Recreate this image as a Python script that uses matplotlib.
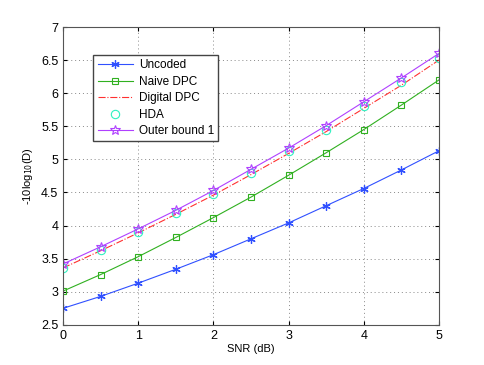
import numpy as np
import matplotlib
matplotlib.use('Agg')
import matplotlib.pyplot as plt

plt.rcParams['font.family'] = ['Liberation Sans', 'DejaVu Sans']

snr = [0, 0.5, 1, 1.5, 2, 2.5, 3, 3.5, 4, 4.5, 5]
uncoded = [2.75, 2.93, 3.13, 3.34, 3.56, 3.80, 4.04, 4.30, 4.56, 4.84, 5.13]
naive = [3.01, 3.26, 3.53, 3.82, 4.12, 4.43, 4.76, 5.10, 5.45, 5.82, 6.20]
digital = [3.36, 3.62, 3.89, 4.17, 4.46, 4.77, 5.09, 5.42, 5.77, 6.12, 6.50]
hda = [3.36, 3.63, 3.91, 4.19, 4.48, 4.80, 5.12, 5.45, 5.81, 6.17, 6.53]
outer = [3.42, 3.68, 3.95, 4.23, 4.53, 4.85, 5.17, 5.51, 5.87, 6.23, 6.60]

fig = plt.figure(figsize=(4.85, 3.65), dpi=100)
ax = fig.add_axes([0.13, 0.11, 0.775, 0.816])

ax.plot(snr, uncoded, color='#3050ff', marker=(6, 2, 0), markersize=6, mew=0.9, lw=0.8, label='Uncoded')
ax.plot(snr, naive, color='#30b020', marker='s', markersize=5, mfc='none', mew=0.8, lw=0.8, label='Naive DPC')
ax.plot(snr, digital, color='#ff3030', ls='-.', lw=0.8, label='Digital DPC')
ax.plot(snr, hda, color='#30f0c0', marker='o', markersize=6, mfc='none', mew=0.8, ls='none', label='HDA')
ax.plot(snr, outer, color='#b040ff', marker='*', markersize=7, mfc='none', mew=0.8, lw=0.8, label='Outer bound 1')

ax.set_xlim(0, 5)
ax.set_ylim(2.5, 7)
ax.set_xticks([0, 1, 2, 3, 4, 5])
ax.set_yticks([2.5, 3, 3.5, 4, 4.5, 5, 5.5, 6, 6.5, 7])
ax.set_yticklabels(['2.5', '3', '3.5', '4', '4.5', '5', '5.5', '6', '6.5', '7'])
ax.grid(True, ls=(0, (1, 3)), color='#888888', lw=0.7)
ax.tick_params(direction='in', labelsize=9, top=True, right=True, length=3)
for s in ax.spines.values():
    s.set_color('#555555')
ax.set_xlabel('SNR (dB)', fontsize=8, labelpad=2)
ax.set_ylabel('-10log$_{10}$(D)', fontsize=8)

leg = ax.legend(loc='upper left', bbox_to_anchor=(0.065, 0.925), fontsize=8.5,
                fancybox=False, framealpha=1, edgecolor='#444444',
                handlelength=3, handletextpad=0.5, borderpad=0.35, labelspacing=0.38)
leg.get_frame().set_linewidth(1.0)

fig.savefig('out.png', dpi=100)
